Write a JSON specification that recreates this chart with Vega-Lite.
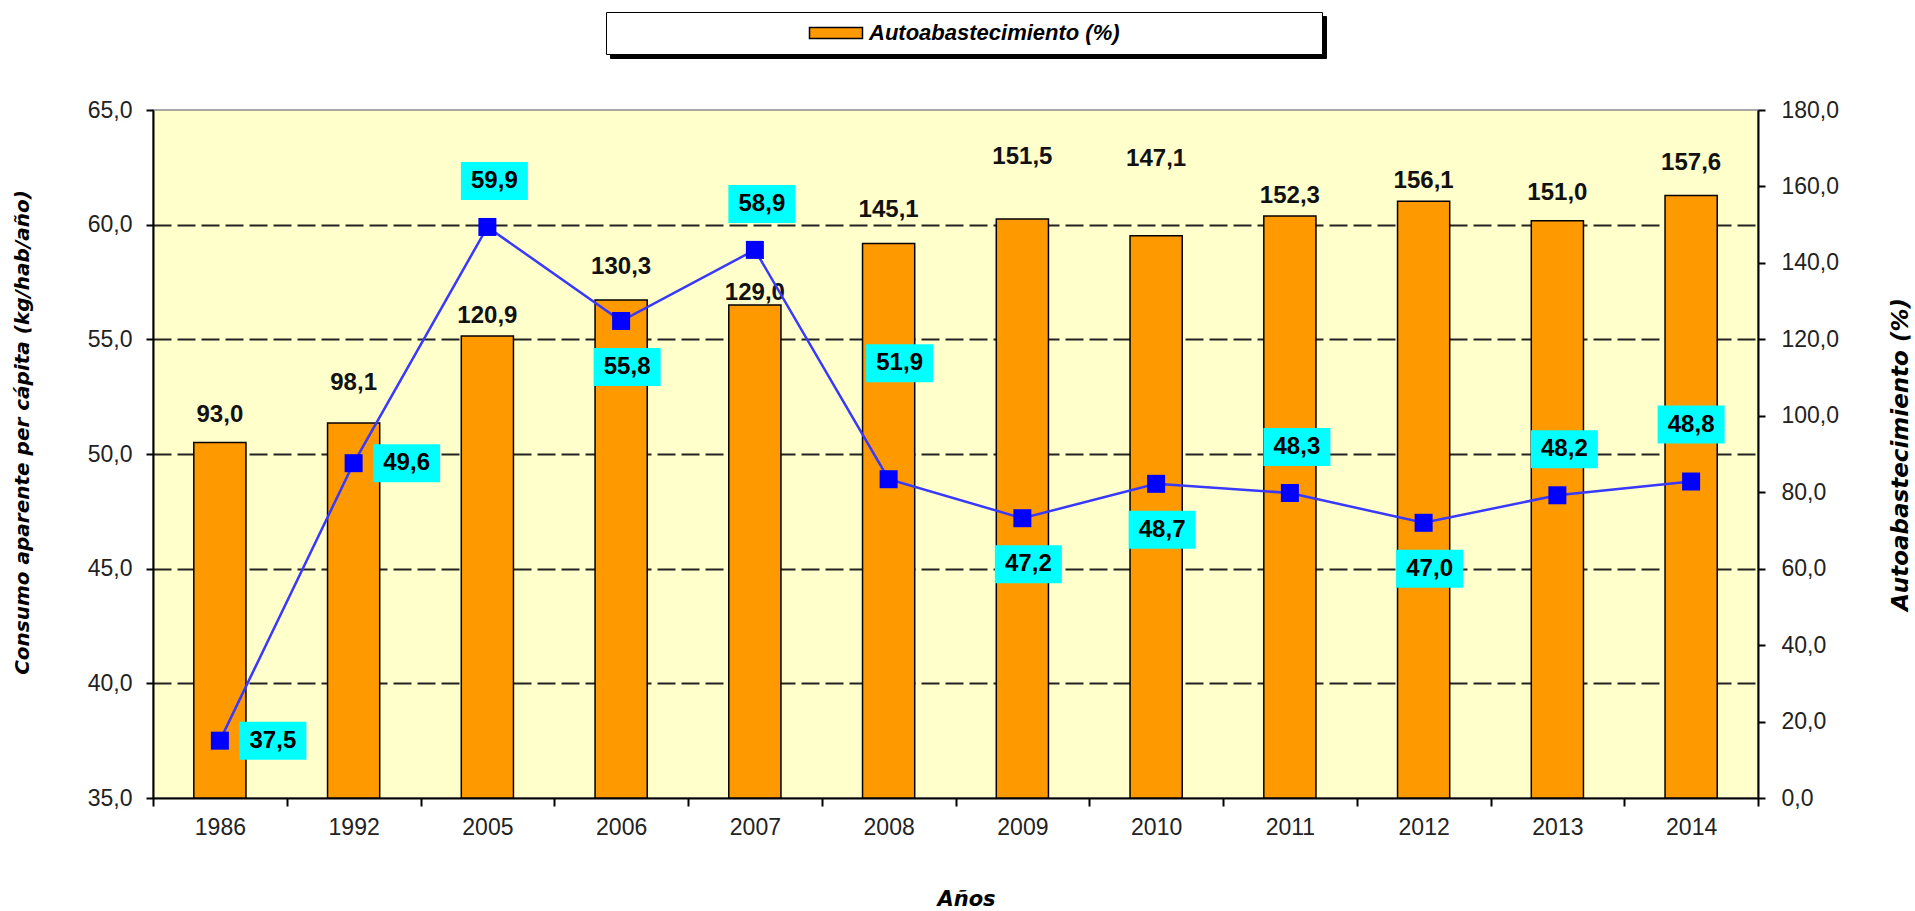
{
  "$schema": "https://vega.github.io/schema/vega-lite/v6.json",
  "width": 1605,
  "height": 688,
  "autosize": "none",
  "padding": {"left": 153, "top": 110, "right": 157, "bottom": 113},
  "background": "#ffffff",
  "data": {"values": [
    {"year": "1986", "auto": 93.0, "cons": 37.5, "lab": 37.5},
    {"year": "1992", "auto": 98.1, "cons": 49.6, "lab": 49.6},
    {"year": "2005", "auto": 120.9, "cons": 59.9, "lab": 59.9},
    {"year": "2006", "auto": 130.3, "cons": 55.8, "lab": 55.8},
    {"year": "2007", "auto": 129.0, "cons": 58.9, "lab": 58.9},
    {"year": "2008", "auto": 145.1, "cons": 48.9, "lab": 51.9},
    {"year": "2009", "auto": 151.5, "cons": 47.2, "lab": 47.2},
    {"year": "2010", "auto": 147.1, "cons": 48.7, "lab": 48.7},
    {"year": "2011", "auto": 152.3, "cons": 48.3, "lab": 48.3},
    {"year": "2012", "auto": 156.1, "cons": 47.0, "lab": 47.0},
    {"year": "2013", "auto": 151.0, "cons": 48.2, "lab": 48.2},
    {"year": "2014", "auto": 157.6, "cons": 48.8, "lab": 48.8}
  ]},
  "encoding": {
    "x": {
      "field": "year", "type": "ordinal", "sort": null,
      "scale": {"paddingInner": 0, "paddingOuter": 0},
      "axis": {
        "tickBand": "extent", "labelAngle": 0,
        "domainColor": "#000000", "domainWidth": 2,
        "tickColor": "#000000", "tickWidth": 2, "tickSize": 8,
        "labelFont": "Liberation Sans", "labelFontSize": 23, "labelColor": "#222222", "labelPadding": 10,
        "title": "Años", "titleFont": "DejaVu Sans", "titleFontSize": 21,
        "titleFontStyle": "italic", "titleFontWeight": "bold", "titleColor": "#000000",
        "titlePadding": 49, "titleX": 813
      }
    }
  },
  "layer": [
    {
      "encoding": {
        "y": {
          "field": "auto", "type": "quantitative",
          "scale": {"domain": [0, 180], "nice": false, "zero": true},
          "axis": {
            "orient": "right", "values": [0, 20, 40, 60, 80, 100, 120, 140, 160, 180],
            "format": ".1f", "grid": false,
            "domainColor": "#000000", "domainWidth": 2,
            "tickColor": "#000000", "tickWidth": 2, "tickSize": 7,
            "labelFont": "Liberation Sans", "labelFontSize": 23, "labelColor": "#222222", "labelPadding": 16,
            "title": "Autoabastecimiento (%)", "titleFont": "DejaVu Sans", "titleFontSize": 23,
            "titleFontStyle": "italic", "titleFontWeight": "bold", "titleColor": "#000000",
            "titleAngle": 270, "titleBaseline": "top", "titlePadding": 51
          }
        }
      },
      "layer": [
        {
          "mark": {"type": "bar", "width": {"band": 0.39}, "stroke": "#000000", "strokeWidth": 1.5},
          "encoding": {
            "fill": {
              "datum": "Autoabastecimiento (%)", "type": "nominal",
              "scale": {"range": ["#FF9900"]},
              "legend": {
                "orient": "none", "legendX": 453, "legendY": -98, "zindex": 2,
                "direction": "horizontal",
                "title": "MMMMMMMMMMMM",
                "titleOrient": "left", "titleFont": "Liberation Sans", "titleFontSize": 19, "titleFontWeight": "normal", "titleColor": "#ffffff", "titlePadding": 10,
                "padding": 10, "strokeColor": "#000000", "fillColor": "#ffffff",
                "symbolType": "M-1,-1L8.636,-1L8.636,1L-1,1Z", "symbolSize": 121,
                "symbolStrokeColor": "#000000", "symbolStrokeWidth": 1.5, "symbolOpacity": 1,
                "labelOffset": 43, "labelFont": "Liberation Sans", "labelFontSize": 22,
                "labelFontStyle": "italic", "labelFontWeight": "bold", "labelColor": "#000000",
                "labelLimit": 0,
                "labelExpr": "datum.label + '\u2800\u2800\u2800\u2800\u2800\u2800\u2800\u2800\u2800\u2800\u2800\u2800'"
              }
            }
          }
        },
        {
          "mark": {"type": "point", "opacity": 0, "size": 1},
          "encoding": {
            "shape": {
              "datum": "sh", "type": "nominal",
              "scale": {"range": ["M-1,-1L62.2,-1L62.2,1L-1,1Z"]},
              "legend": {
                "orient": "none", "legendX": 457, "legendY": -94, "zindex": 1,
                "direction": "horizontal", "title": null,
                "padding": 10, "strokeColor": "#000000", "fillColor": "#000000",
                "symbolSize": 484, "symbolFillColor": "#000000",
                "symbolStrokeColor": "#000000", "symbolStrokeWidth": 0, "symbolOpacity": 1,
                "labelOffset": 0, "labelFontSize": 1, "labelExpr": "''"
              }
            }
          }
        },
        {
          "transform": [{"filter": {"field": "year", "oneOf": ["2007"]}}],
          "mark": {"type": "text", "dy": -12, "fontWeight": "bold", "fontSize": 24, "baseline": "middle", "color": "#111111", "font": "Liberation Sans"},
          "encoding": {"text": {"field": "auto", "type": "quantitative", "format": ".1f"}}
        },
        {
          "transform": [{"filter": {"field": "year", "oneOf": ["2005", "2011", "2012"]}}],
          "mark": {"type": "text", "dy": -20, "fontWeight": "bold", "fontSize": 24, "baseline": "middle", "color": "#111111", "font": "Liberation Sans"},
          "encoding": {"text": {"field": "auto", "type": "quantitative", "format": ".1f"}}
        },
        {
          "transform": [{"filter": {"field": "year", "oneOf": ["1986", "2013"]}}],
          "mark": {"type": "text", "dy": -28, "fontWeight": "bold", "fontSize": 24, "baseline": "middle", "color": "#111111", "font": "Liberation Sans"},
          "encoding": {"text": {"field": "auto", "type": "quantitative", "format": ".1f"}}
        },
        {
          "transform": [{"filter": {"field": "year", "oneOf": ["2006", "2008", "2014"]}}],
          "mark": {"type": "text", "dy": -33, "fontWeight": "bold", "fontSize": 24, "baseline": "middle", "color": "#111111", "font": "Liberation Sans"},
          "encoding": {"text": {"field": "auto", "type": "quantitative", "format": ".1f"}}
        },
        {
          "transform": [{"filter": {"field": "year", "oneOf": ["1992"]}}],
          "mark": {"type": "text", "dy": -40, "fontWeight": "bold", "fontSize": 24, "baseline": "middle", "color": "#111111", "font": "Liberation Sans"},
          "encoding": {"text": {"field": "auto", "type": "quantitative", "format": ".1f"}}
        },
        {
          "transform": [{"filter": {"field": "year", "oneOf": ["2009"]}}],
          "mark": {"type": "text", "dy": -62, "fontWeight": "bold", "fontSize": 24, "baseline": "middle", "color": "#111111", "font": "Liberation Sans"},
          "encoding": {"text": {"field": "auto", "type": "quantitative", "format": ".1f"}}
        },
        {
          "transform": [{"filter": {"field": "year", "oneOf": ["2010"]}}],
          "mark": {"type": "text", "dy": -77, "fontWeight": "bold", "fontSize": 24, "baseline": "middle", "color": "#111111", "font": "Liberation Sans"},
          "encoding": {"text": {"field": "auto", "type": "quantitative", "format": ".1f"}}
        }
      ]
    },
    {
      "encoding": {
        "y": {
          "field": "cons", "type": "quantitative",
          "scale": {"domain": [35, 65], "nice": false, "zero": false},
          "axis": {
            "orient": "left", "values": [35, 40, 45, 50, 55, 60, 65],
            "format": ".1f", "grid": true,
            "gridDash": [18, 6], "gridColor": "#222222", "gridWidth": 2,
            "gridOpacity": {"condition": {"test": "datum.value === 35 || datum.value === 65", "value": 0}, "value": 1},
            "domainColor": "#000000", "domainWidth": 2,
            "tickColor": "#000000", "tickWidth": 2, "tickSize": 7,
            "labelFont": "Liberation Sans", "labelFontSize": 23, "labelColor": "#222222", "labelPadding": 14,
            "title": "Consumo aparente per cápita (kg/hab/año)", "titleFont": "DejaVu Sans", "titleFontSize": 20,
            "titleFontStyle": "italic", "titleFontWeight": "bold", "titleColor": "#000000",
            "titlePadding": 55, "titleY": 322
          }
        }
      },
      "layer": [
        {"mark": {"type": "line", "color": "#3838FF", "strokeWidth": 2.5}, "encoding": {}},
        {"mark": {"type": "point", "shape": "square", "size": 324, "filled": true, "color": "#0000FF", "opacity": 1}, "encoding": {}},
        {
          "transform": [{"filter": {"field": "year", "oneOf": ["1986", "1992"]}}],
          "mark": {"type": "point", "shape": "M1.95,-1.9L8.65,-1.9L8.65,1.9L1.95,1.9Z", "size": 400, "filled": true, "color": "#00FFFF", "opacity": 1},
          "encoding": {}
        },
        {
          "transform": [{"filter": {"field": "year", "oneOf": ["2005", "2007", "2011", "2013"]}}],
          "mark": {"type": "point", "shape": "M-2.65,-6.5L4.05,-6.5L4.05,-2.7L-2.65,-2.7Z", "size": 400, "filled": true, "color": "#00FFFF", "opacity": 1},
          "encoding": {}
        },
        {
          "transform": [{"filter": {"field": "year", "oneOf": ["2006", "2009", "2010", "2012"]}}],
          "mark": {"type": "point", "shape": "M-2.75,2.7L3.95,2.7L3.95,6.5L-2.75,6.5Z", "size": 400, "filled": true, "color": "#00FFFF", "opacity": 1},
          "encoding": {}
        },
        {
          "transform": [{"filter": {"field": "year", "oneOf": ["2008"]}}],
          "mark": {"type": "point", "shape": "M-2.25,-13.5L4.45,-13.5L4.45,-9.7L-2.25,-9.7Z", "size": 400, "filled": true, "color": "#00FFFF", "opacity": 1},
          "encoding": {}
        },
        {
          "transform": [{"filter": {"field": "year", "oneOf": ["2014"]}}],
          "mark": {"type": "point", "shape": "M-3.35,-7.6L3.35,-7.6L3.35,-3.8L-3.35,-3.8Z", "size": 400, "filled": true, "color": "#00FFFF", "opacity": 1},
          "encoding": {}
        },
        {
          "transform": [{"filter": {"field": "year", "oneOf": ["1986", "1992"]}}],
          "mark": {"type": "text", "dx": 53, "dy": 0, "fontWeight": "bold", "fontSize": 24, "baseline": "middle", "color": "#000000", "font": "Liberation Sans"},
          "encoding": {"text": {"field": "lab", "type": "quantitative", "format": ".1f"}}
        },
        {
          "transform": [{"filter": {"field": "year", "oneOf": ["2005", "2007", "2011", "2013"]}}],
          "mark": {"type": "text", "dx": 7, "dy": -46, "fontWeight": "bold", "fontSize": 24, "baseline": "middle", "color": "#000000", "font": "Liberation Sans"},
          "encoding": {"text": {"field": "lab", "type": "quantitative", "format": ".1f"}}
        },
        {
          "transform": [{"filter": {"field": "year", "oneOf": ["2006", "2009", "2010", "2012"]}}],
          "mark": {"type": "text", "dx": 6, "dy": 46, "fontWeight": "bold", "fontSize": 24, "baseline": "middle", "color": "#000000", "font": "Liberation Sans"},
          "encoding": {"text": {"field": "lab", "type": "quantitative", "format": ".1f"}}
        },
        {
          "transform": [{"filter": {"field": "year", "oneOf": ["2008"]}}],
          "mark": {"type": "text", "dx": 11, "dy": -116, "fontWeight": "bold", "fontSize": 24, "baseline": "middle", "color": "#000000", "font": "Liberation Sans"},
          "encoding": {"text": {"field": "lab", "type": "quantitative", "format": ".1f"}}
        },
        {
          "transform": [{"filter": {"field": "year", "oneOf": ["2014"]}}],
          "mark": {"type": "text", "dx": 0, "dy": -57, "fontWeight": "bold", "fontSize": 24, "baseline": "middle", "color": "#000000", "font": "Liberation Sans"},
          "encoding": {"text": {"field": "lab", "type": "quantitative", "format": ".1f"}}
        }
      ]
    }
  ],
  "resolve": {"scale": {"y": "independent"}},
  "config": {
    "font": "Liberation Sans",
    "locale": {"number": {"decimal": ",", "thousands": ".", "grouping": [3], "currency": ["", " €"]}},
    "view": {"fill": "#FFFFCC", "stroke": "#8c8c8c", "strokeWidth": 1.5}
  }
}
